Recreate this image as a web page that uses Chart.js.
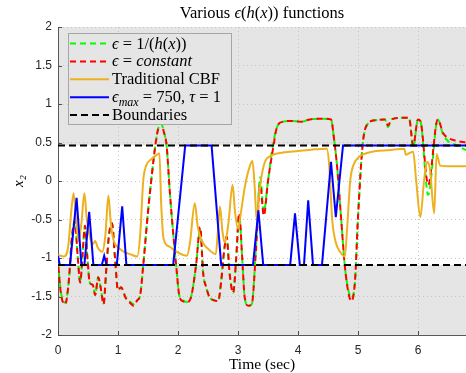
<!DOCTYPE html>
<html>
<head>
<meta charset="utf-8">
<script src="https://cdn.jsdelivr.net/npm/chart.js@4.4.1/dist/chart.umd.min.js"></script>
<style>
html, body { margin: 0; padding: 0; background: #fff; }
#wrap { width: 466px; height: 373px; }
</style>
</head>
<body>
<div id="wrap"><canvas id="chartEps" width="466" height="373"></canvas></div>
<script>
// axis limits
const tMin = 0, tMax = 6.8;
const xMin = -2, xMax = 2;

// epsilon = 1/(h(x))
const invT = [0, 0.05, 0.12, 0.18, 0.23, 0.28, 0.33, 0.37, 0.41, 0.45, 0.49, 0.53, 0.58, 0.62, 0.67, 0.71, 0.76, 0.8, 0.85, 0.9,
  0.95, 1.0, 1.05, 1.13, 1.2, 1.26, 1.32, 1.37, 1.42, 1.5, 1.56, 1.62, 1.67, 1.72, 1.76, 1.81, 1.86, 1.9, 1.97, 2.02,
  2.08, 2.15, 2.22, 2.3, 2.37, 2.42, 2.47, 2.52, 2.6, 2.67, 2.72, 2.77, 2.81, 2.86, 2.92, 2.97, 3.02, 3.07, 3.11, 3.17,
  3.23, 3.3, 3.37, 3.43, 3.5, 3.58, 3.65, 3.75, 3.9, 4.05, 4.2, 4.4, 4.55, 4.6, 4.65, 4.72, 4.78, 4.84, 4.89, 4.95,
  5.0, 5.08, 5.17, 5.3, 5.45, 5.5, 5.56, 5.7, 5.85, 5.92, 6.0, 6.04, 6.17, 6.33, 6.42, 6.5, 6.65, 6.8];
const invX = [-1.05, -1.45, -1.58, -1.3, -0.75, -0.52, -1.0, -1.32, -0.95, -0.58, -1.0, -1.32, -1.35, -1.48, -1.25, -1.38, -1.59, -1.2, -0.7, -0.55,
  -1.0, -1.42, -1.38, -1.52, -1.57, -1.6, -1.55, -1.48, -1.1, -0.4, 0.05, 0.45, 0.68, 0.75, 0.65, 0.46, -0.1, -0.5, -1.1, -1.48,
  -1.55, -1.57, -1.5, -1.1, -0.63, -1.2, -1.38, -1.5, -1.55, -1.55, -1.3, -0.9, -0.72, -1.2, -1.45, -1.0, -0.45, -1.0, -1.5, -1.62,
  -1.6, -0.85, 0.05, -0.4, 0.0, 0.46, 0.7, 0.77, 0.78, 0.77, 0.8, 0.81, 0.8, 0.55, 0.2, -0.5, -1.1, -1.42, -1.52, -1.3,
  -0.47, 0.49, 0.75, 0.79, 0.8, 0.7, 0.8, 0.82, 0.82, 0.44, 0.8, 0.78, -0.18, 0.8, 0.6, 0.52, 0.46, 0.4];

// epsilon = constant
const constT = [0, 0.05, 0.12, 0.18, 0.23, 0.28, 0.33, 0.37, 0.41, 0.45, 0.49, 0.53, 0.58, 0.62, 0.67, 0.71, 0.76, 0.8, 0.85, 0.9,
  0.95, 1.0, 1.05, 1.13, 1.2, 1.26, 1.32, 1.37, 1.42, 1.5, 1.56, 1.62, 1.67, 1.72, 1.76, 1.81, 1.86, 1.9, 1.97, 2.02,
  2.08, 2.15, 2.22, 2.3, 2.37, 2.42, 2.47, 2.52, 2.6, 2.67, 2.72, 2.77, 2.81, 2.86, 2.92, 2.97, 3.02, 3.07, 3.11, 3.17,
  3.23, 3.3, 3.37, 3.43, 3.5, 3.58, 3.65, 3.75, 3.9, 4.05, 4.2, 4.4, 4.55, 4.6, 4.65, 4.72, 4.78, 4.84, 4.89, 4.95,
  5.0, 5.08, 5.17, 5.3, 5.45, 5.5, 5.56, 5.7, 5.85, 5.92, 6.0, 6.04, 6.17, 6.33, 6.42, 6.5, 6.65, 6.8];
const constX = [-1.05, -1.47, -1.6, -1.3, -0.75, -0.52, -1.0, -1.32, -0.95, -0.58, -1.0, -1.32, -1.35, -1.48, -1.25, -1.38, -1.6, -1.2, -0.7, -0.55,
  -1.0, -1.42, -1.38, -1.52, -1.58, -1.62, -1.55, -1.48, -1.1, -0.4, 0.05, 0.45, 0.68, 0.76, 0.65, 0.46, -0.1, -0.5, -1.1, -1.48,
  -1.56, -1.57, -1.5, -1.1, -0.6, -1.2, -1.38, -1.5, -1.55, -1.56, -1.3, -0.9, -0.72, -1.2, -1.45, -1.0, -0.42, -1.0, -1.5, -1.62,
  -1.6, -0.9, -0.05, -0.45, 0.0, 0.4, 0.7, 0.77, 0.78, 0.77, 0.8, 0.81, 0.8, 0.55, 0.2, -0.5, -1.1, -1.45, -1.56, -1.3,
  -0.47, 0.49, 0.75, 0.79, 0.8, 0.72, 0.8, 0.82, 0.82, 0.46, 0.8, 0.78, -0.05, 0.8, 0.62, 0.56, 0.52, 0.5];

// traditional CBF
const cbfT = [0, 0.1, 0.17, 0.22, 0.26, 0.3, 0.34, 0.39, 0.44, 0.48, 0.53, 0.58, 0.62, 0.66, 0.74, 0.79, 0.84, 0.88, 0.93, 1.0,
  1.1, 1.2, 1.32, 1.37, 1.42, 1.47, 1.55, 1.63, 1.69, 1.72, 1.76, 1.85, 2.0, 2.15, 2.2, 2.28, 2.33, 2.4, 2.5, 2.63,
  2.66, 2.7, 2.74, 2.78, 2.84, 2.91, 2.95, 3.0, 3.05, 3.12, 3.2, 3.24, 3.28, 3.31, 3.35, 3.39, 3.45, 3.55, 3.75, 4.0,
  4.25, 4.48, 4.52, 4.57, 4.63, 4.7, 4.78, 4.82, 4.87, 4.92, 5.0, 5.1, 5.3, 5.5, 5.77, 5.8, 5.85, 5.92, 5.97, 6.04,
  6.1, 6.15, 6.2, 6.27, 6.31, 6.37, 6.5, 6.8];
const cbfX = [-0.96, -0.98, -0.85, -0.4, -0.16, -0.5, -0.78, -0.55, -0.16, -0.5, -0.72, -0.82, -0.78, -0.86, -0.92, -0.7, -0.19, -0.55, -0.78, -0.86,
  -0.92, -0.95, -0.98, -0.7, 0.0, 0.2, 0.28, 0.33, 0.36, -0.3, -0.75, -0.85, -0.93, -0.97, -0.8, -0.29, -0.6, -0.78, -0.88, -0.95,
  -0.7, -0.33, -0.65, -0.8, -0.55, -0.05, -0.4, -0.62, -0.4, -0.05, 0.2, 0.26, -0.1, -0.5, -0.2, 0.05, 0.25, 0.33, 0.37, 0.39,
  0.41, 0.42, 0.2, -0.5, -0.8, -0.92, -0.98, -0.6, 0.0, 0.2, 0.3, 0.35, 0.39, 0.4, 0.42, 0.34, 0.36, 0.38, 0.0, -0.47,
  0.0, 0.25, 0.15, -0.42, 0.35, 0.2, 0.19, 0.19];

// epsilon_max = 750, tau = 1
const tauT = [0, 0.03, 0.2, 0.31, 0.39, 0.44, 0.52, 0.59, 0.73, 0.77, 0.81, 0.98, 1.07, 1.14, 1.92, 2.12, 2.56, 2.72, 3.25, 3.34,
  3.42, 3.87, 3.95, 4.03, 4.1, 4.17, 4.25, 4.4, 4.55, 4.63, 4.75, 6.8];
const tauX = [-0.97, -1.09, -1.09, -0.22, -1.09, -1.09, -0.4, -1.09, -1.09, -0.97, -1.09, -1.09, -0.33, -1.09, -1.09, 0.46, 0.46, -1.09, -1.09, -0.38,
  -1.09, -1.09, -0.42, -1.09, -1.09, -0.25, -1.09, -1.09, 0.25, -0.47, 0.46, 0.46];

// safe set boundaries
const boundT = [0, 6.8];
const boundUpper = [0.46, 0.46];
const boundLower = [-1.09, -1.09];

const pts = (ts, vs) => ts.map((t, i) => ({ x: t, y: vs[i] }));

const serif = '"Liberation Serif", "DejaVu Serif", serif';
const sans = '"Liberation Sans", Arial, sans-serif';

// text pieces: 'r' upright, 'i' italic, 's' italic subscript
const titleParts = [['Various ', 'r'], ['\u03F5', 'i'], ['(', 'r'], ['h', 'i'], ['(', 'r'], ['x', 'i'], ['))', 'r'], [' functions', 'r']];
const legendRows = [
    [['\u03F5', 'i'], [' = 1/(', 'r'], ['h', 'i'], ['(', 'r'], ['x', 'i'], ['))', 'r']],
    [['\u03F5', 'i'], [' = ', 'r'], ['constant', 'i']],
    [['Traditional CBF', 'r']],
    [['\u03F5', 'i'], ['max', 's'], [' = 750, ', 'r'], ['\u03C4', 'i'], [' = 1', 'r']],
    [['Boundaries', 'r']]
];

function drawRich(ctx, parts, x, y, size, align) {
    const fontFor = st => (st === 'r' ? '' : 'italic ') + (st === 's' ? Math.round(size * 0.7) : size) + 'px ' + serif;
    let w = 0;
    parts.forEach(([t, st]) => { ctx.font = fontFor(st); w += ctx.measureText(t).width; });
    let cx = align === 'center' ? x - w / 2 : x;
    ctx.textAlign = 'left';
    ctx.textBaseline = 'alphabetic';
    parts.forEach(([t, st]) => {
        ctx.font = fontFor(st);
        ctx.fillText(t, cx, st === 's' ? y + size * 0.25 : y);
        cx += ctx.measureText(t).width;
    });
}

const titlePlugin = {
    id: 'richTitle',
    afterDraw(chart) {
        const { ctx, chartArea: a } = chart;
        ctx.save();
        ctx.fillStyle = '#000';
        drawRich(ctx, titleParts, (a.left + a.right) / 2, 18, 16.5, 'center');
        ctx.restore();
    }
};

// tick marks pointing into the axes
const innerTicks = {
    id: 'innerTicks',
    beforeDatasetsDraw(chart) {
        const { ctx, chartArea: a, scales: { x, y } } = chart;
        ctx.save();
        ctx.strokeStyle = '#4d4d4d';
        ctx.lineWidth = 1;
        ctx.beginPath();
        x.ticks.forEach((t, i) => {
            const px = Math.round(x.getPixelForTick(i)) + 0.5;
            ctx.moveTo(px, a.bottom); ctx.lineTo(px, a.bottom - 4);
        });
        y.ticks.forEach((t, i) => {
            const py = Math.round(y.getPixelForTick(i)) + 0.5;
            ctx.moveTo(a.left, py); ctx.lineTo(a.left + 4, py);
        });
        ctx.stroke();
        ctx.restore();
    }
};

const insetLegend = {
    id: 'insetLegend',
    afterDraw(chart) {
        const ctx = chart.ctx;
        ctx.save();
        ctx.fillStyle = '#e5e5e5';
        ctx.fillRect(68, 33, 164, 92);
        ctx.strokeStyle = '#a6a6a6';
        ctx.lineWidth = 1;
        ctx.strokeRect(68.5, 33.5, 163, 91);
        legendRows.forEach((parts, i) => {
            const ds = chart.data.datasets[i];
            const yy = 43.5 + i * 17.9;
            ctx.strokeStyle = ds.borderColor;
            ctx.lineWidth = 2;
            ctx.setLineDash(ds.borderDash || []);
            ctx.beginPath();
            ctx.moveTo(70, yy); ctx.lineTo(109, yy);
            ctx.stroke();
            ctx.setLineDash([]);
            ctx.fillStyle = '#000';
            drawRich(ctx, parts, 112, yy + 5, 16.5, 'left');
        });
        ctx.restore();
    }
};

const chart = new Chart(document.getElementById('chartEps'), {
    type: 'line',
    data: {
        datasets: [
            {
                label: '\u03F5 = 1/(h(x))',
                data: pts(invT, invX),
                borderColor: '#00ff00',
                borderWidth: 2,
                borderDash: [6, 4],
                cubicInterpolationMode: 'monotone',
                pointRadius: 0,
                fill: false,
                order: 6
            },
            {
                label: '\u03F5 = constant',
                data: pts(constT, constX),
                borderColor: '#ff0000',
                borderWidth: 2,
                borderDash: [6, 4],
                borderDashOffset: 5,
                cubicInterpolationMode: 'monotone',
                pointRadius: 0,
                fill: false,
                order: 5
            },
            {
                label: 'Traditional CBF',
                data: pts(cbfT, cbfX),
                borderColor: '#EDB120',
                borderWidth: 2,
                cubicInterpolationMode: 'monotone',
                pointRadius: 0,
                fill: false,
                order: 4
            },
            {
                label: '\u03F5max = 750, \u03C4 = 1',
                data: pts(tauT, tauX),
                borderColor: '#0000ff',
                borderWidth: 2,
                pointRadius: 0,
                fill: false,
                order: 3
            },
            {
                label: 'Boundaries',
                data: pts(boundT, boundUpper),
                borderColor: '#000',
                borderWidth: 2,
                borderDash: [7, 4],
                pointRadius: 0,
                fill: 'end',
                backgroundColor: '#e5e5e5',
                order: 1
            },
            {
                label: 'Boundaries',
                data: pts(boundT, boundLower),
                borderColor: '#000',
                borderWidth: 2,
                borderDash: [7, 4],
                pointRadius: 0,
                fill: 'start',
                backgroundColor: '#e5e5e5',
                order: 2
            }
        ]
    },
    options: {
        responsive: false,
        animation: false,
        devicePixelRatio: 1,
        layout: { padding: { top: 27, right: 0, left: 0, bottom: 0 } },
        plugins: {
            legend: { display: false },
            title: { display: false },
            tooltip: { enabled: false },
            filler: { drawTime: 'beforeDraw' }
        },
        scales: {
            x: {
                type: 'linear',
                min: tMin,
                max: tMax,
                afterFit: s => { s.height = 38; },
                ticks: { stepSize: 1, includeBounds: false, padding: 8, color: '#262626', font: { family: sans, size: 12 }, maxRotation: 0,
                    callback: v => String(v) },
                grid: { color: '#c4c4c4', drawTicks: false },
                border: { display: true, color: '#595959', width: 1, dash: [1, 3] },
                title: { display: true, text: 'Time (sec)', color: '#000', font: { family: serif, size: 15.5, lineHeight: 1 }, padding: 0 }
            },
            y: {
                type: 'linear',
                min: xMin,
                max: xMax,
                afterFit: s => { s.width = 58; },
                ticks: { stepSize: 0.5, padding: 6, color: '#262626', font: { family: sans, size: 12 },
                    callback: v => String(v) },
                grid: { color: '#c4c4c4', drawTicks: false },
                border: { display: true, color: '#595959', width: 1, dash: [1, 3] },
                title: { display: true, text: 'x\u2082', color: '#000', font: { family: serif, size: 15, style: 'italic', lineHeight: 2.6 }, padding: 0 }
            }
        }
    },
    plugins: [innerTicks, titlePlugin, insetLegend]
});
</script>
</body>
</html>
